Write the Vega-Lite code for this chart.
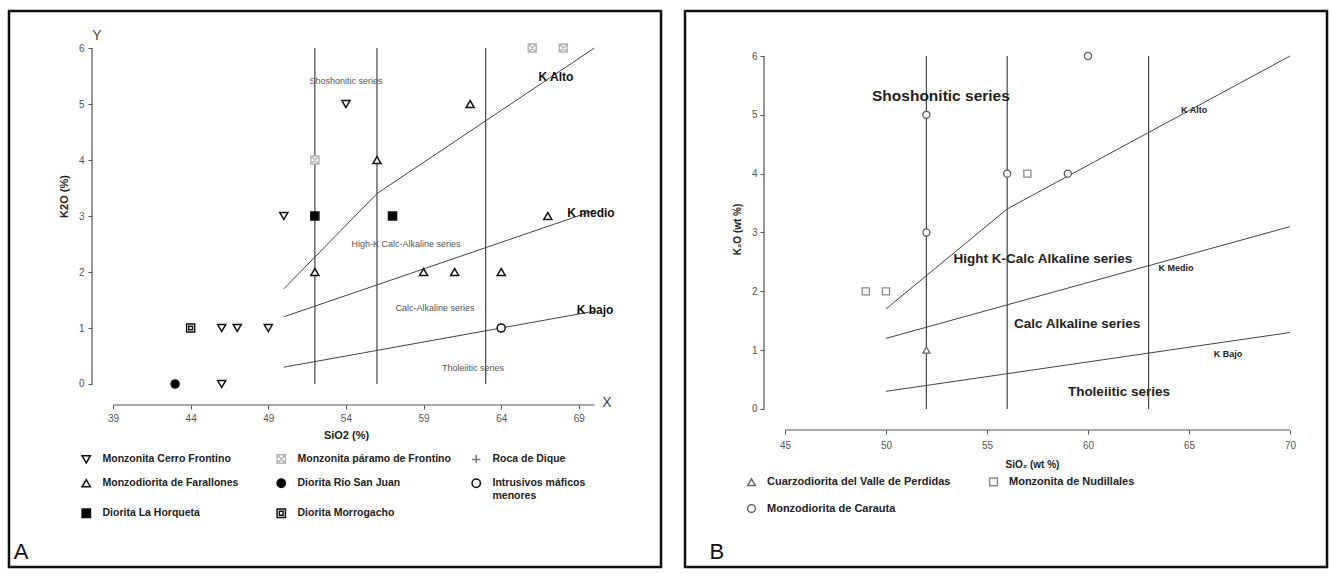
{
  "$schema": "https://vega.github.io/schema/vega-lite/v6.json",
  "padding": {"left": 7, "top": 9, "right": 0, "bottom": 0},
  "background": "white",
  "spacing": 20,
  "config": {"view": {"stroke": "#111", "strokeWidth": 2.5}, "font": "Liberation Sans"},
  "datasets": {
    "ptsA": [
      {"series": "Monzonita Cerro Frontino", "SiO2": 50, "K2O": 3},
      {"series": "Monzonita Cerro Frontino", "SiO2": 54, "K2O": 5},
      {"series": "Monzonita Cerro Frontino", "SiO2": 46, "K2O": 1},
      {"series": "Monzonita Cerro Frontino", "SiO2": 47, "K2O": 1},
      {"series": "Monzonita Cerro Frontino", "SiO2": 49, "K2O": 1},
      {"series": "Monzonita Cerro Frontino", "SiO2": 46, "K2O": 0},
      {"series": "Monzonita páramo de Frontino", "SiO2": 52, "K2O": 4},
      {"series": "Monzonita páramo de Frontino", "SiO2": 66, "K2O": 6},
      {"series": "Monzonita páramo de Frontino", "SiO2": 68, "K2O": 6},
      {"series": "Monzodiorita de Farallones", "SiO2": 52, "K2O": 2},
      {"series": "Monzodiorita de Farallones", "SiO2": 56, "K2O": 4},
      {"series": "Monzodiorita de Farallones", "SiO2": 62, "K2O": 5},
      {"series": "Monzodiorita de Farallones", "SiO2": 67, "K2O": 3},
      {"series": "Monzodiorita de Farallones", "SiO2": 59, "K2O": 2},
      {"series": "Monzodiorita de Farallones", "SiO2": 61, "K2O": 2},
      {"series": "Monzodiorita de Farallones", "SiO2": 64, "K2O": 2},
      {"series": "Diorita Río San Juan", "SiO2": 43, "K2O": 0},
      {"series": "Intrusivos máficos menores", "SiO2": 64, "K2O": 1},
      {"series": "Diorita La Horqueta", "SiO2": 52, "K2O": 3},
      {"series": "Diorita La Horqueta", "SiO2": 57, "K2O": 3},
      {"series": "Diorita Morrogacho", "SiO2": 44, "K2O": 1}
    ],
    "ptsB": [
      {"series": "Monzodiorita de Carauta", "SiO2": 52, "K2O": 5},
      {"series": "Monzodiorita de Carauta", "SiO2": 52, "K2O": 3},
      {"series": "Monzodiorita de Carauta", "SiO2": 56, "K2O": 4},
      {"series": "Monzodiorita de Carauta", "SiO2": 59, "K2O": 4},
      {"series": "Monzodiorita de Carauta", "SiO2": 60, "K2O": 6},
      {"series": "Monzonita de Nudillales", "SiO2": 49, "K2O": 2},
      {"series": "Monzonita de Nudillales", "SiO2": 50, "K2O": 2},
      {"series": "Monzonita de Nudillales", "SiO2": 57, "K2O": 4},
      {"series": "Cuarzodiorita del Valle de Perdidas", "SiO2": 52, "K2O": 1}
    ],
    "bounds": [
      {"line": "K Alto", "SiO2": 50, "K2O": 1.7},
      {"line": "K Alto", "SiO2": 56, "K2O": 3.4},
      {"line": "K Alto", "SiO2": 70, "K2O": 6.0},
      {"line": "K medio", "SiO2": 50, "K2O": 1.2},
      {"line": "K medio", "SiO2": 70, "K2O": 3.1},
      {"line": "K bajo", "SiO2": 50, "K2O": 0.3},
      {"line": "K bajo", "SiO2": 70, "K2O": 1.3}
    ],
    "vlines": [
      {"SiO2": 52, "K2O": 0, "K2Ob": 6},
      {"SiO2": 56, "K2O": 0, "K2Ob": 6},
      {"SiO2": 63, "K2O": 0, "K2Ob": 6}
    ],
    "xAxisA": [{"SiO2": 39, "SiO2b": 70, "K2O": -0.375}],
    "yAxisA": [{"SiO2": 37.648, "K2O": 0, "K2Ob": 6}],
    "xAxisB": [{"SiO2": 45, "SiO2b": 70, "K2O": -0.357}],
    "yAxisB": [{"SiO2": 43.961, "K2O": 0, "K2Ob": 6}],
    "notesA": [
      {"label": "Shoshonitic series", "SiO2": 54.0, "K2O": 5.41},
      {"label": "High-K Calc-Alkaline series", "SiO2": 57.87, "K2O": 2.5},
      {"label": "Calc-Alkaline series", "SiO2": 59.73, "K2O": 1.36},
      {"label": "Tholeiitic series", "SiO2": 62.18, "K2O": 0.286}
    ],
    "kA": [
      {"label": "K Alto", "SiO2": 67.52, "K2O": 5.48},
      {"label": "K medio", "SiO2": 69.78, "K2O": 3.05},
      {"label": "K bajo", "SiO2": 70.04, "K2O": 1.32}
    ],
    "lettersA": [
      {"label": "Y", "SiO2": 37.97, "K2O": 6.215},
      {"label": "X", "SiO2": 70.81, "K2O": -0.339}
    ],
    "panA": [{"label": "A", "SiO2": 33.08, "K2O": -3.0}],
    "shoB": [{"label": "Shoshonitic series", "SiO2": 52.72, "K2O": 5.32}],
    "notesB": [
      {"label": "Hight K-Calc Alkaline series", "SiO2": 57.77, "K2O": 2.55},
      {"label": "Calc Alkaline series", "SiO2": 59.46, "K2O": 1.445},
      {"label": "Tholeiitic series", "SiO2": 61.53, "K2O": 0.289}
    ],
    "kB": [
      {"label": "K Alto", "SiO2": 65.25, "K2O": 5.08},
      {"label": "K Medio", "SiO2": 64.36, "K2O": 2.4},
      {"label": "K Bajo", "SiO2": 66.93, "K2O": 0.935}
    ],
    "panB": [{"label": "B", "SiO2": 41.63, "K2O": -2.43}]
  },
  "resolve": {
    "scale": {"x": "independent", "y": "independent", "shape": "independent", "fill": "independent", "stroke": "independent"},
    "legend": {"shape": "independent", "fill": "independent", "stroke": "independent"},
    "axis": {"x": "independent", "y": "independent"}
  },
  "hconcat": [
    {
      "width": 652,
      "height": 556,
      "encoding": {
        "x": {
          "field": "SiO2", "type": "quantitative",
          "scale": {"domain": [32.303, 74.29], "nice": false, "zero": false},
          "axis": {
            "offset": -162, "domain": false, "grid": false,
            "values": [39, 44, 49, 54, 59, 64, 69],
            "tickSize": 4, "tickColor": "#555", "labelColor": "#555", "labelFontSize": 10,
            "labelPadding": 4, "labelFlush": false,
            "title": "SiO2 (%)", "titleFontSize": 11, "titleFontWeight": "bold", "titleColor": "#222",
            "titleX": 337, "titleY": 30, "titleBaseline": "middle", "titleAlign": "center"
          }
        },
        "y": {
          "field": "K2O", "type": "quantitative",
          "scale": {"domain": [-3.268, 6.661], "nice": false, "zero": false},
          "axis": {
            "offset": -83, "domain": false, "grid": false,
            "values": [0, 1, 2, 3, 4, 5, 6],
            "tickSize": 4, "tickColor": "#555", "labelColor": "#555", "labelFontSize": 10,
            "labelPadding": 4, "labelFlush": false,
            "title": "K2O (%)", "titleFontSize": 11, "titleFontWeight": "bold", "titleColor": "#222",
            "titleX": -28, "titleY": 185, "titleAngle": 270, "titleBaseline": "middle", "titleAlign": "center"
          }
        }
      },
      "layer": [
        {"data": {"name": "vlines"}, "mark": {"type": "rule", "color": "#444", "strokeWidth": 1.2}, "encoding": {"y2": {"field": "K2Ob"}}},
        {"data": {"name": "bounds"}, "mark": {"type": "line", "color": "#444", "strokeWidth": 1}, "encoding": {"detail": {"field": "line"}}},
        {"data": {"name": "xAxisA"}, "mark": {"type": "rule", "color": "#555", "strokeWidth": 1.2}, "encoding": {"x2": {"field": "SiO2b"}}},
        {"data": {"name": "yAxisA"}, "mark": {"type": "rule", "color": "#555", "strokeWidth": 1.2}, "encoding": {"y2": {"field": "K2Ob"}}},
        {
          "data": {"name": "ptsA"},
          "mark": {"type": "point", "size": 65, "strokeWidth": 1.5, "opacity": 1},
          "encoding": {
            "shape": {
              "field": "series", "type": "nominal",
              "scale": {
                "domain": ["Monzonita Cerro Frontino", "Monzonita páramo de Frontino", "Roca de Dique", "Monzodiorita de Farallones", "Diorita Río San Juan", "Intrusivos máficos menores", "Diorita La Horqueta", "Diorita Morrogacho"],
                "range": ["triangle-down", "M-1,-1H1V1H-1Z M-1,-1L1,1 M1,-1L-1,1", "M-1,0.1H1 M0,-1V1", "triangle-up", "circle", "circle", "square", "M-1,-1H1V1H-1Z M-0.45,-0.45H0.45V0.45H-0.45Z"]
              },
              "legend": {
                "title": null, "orient": "none", "legendX": 72, "legendY": 437,
                "direction": "horizontal", "columns": 3, "gridAlign": "all",
                "columnPadding": 18, "rowPadding": 4,
                "labelFontSize": 10.5, "labelFontWeight": "bold", "labelColor": "#222",
                "labelOffset": 11, "labelLimit": 300, "symbolSize": 70, "symbolStrokeWidth": 1.5,
                "labelExpr": "datum.label == 'Intrusivos máficos menores' ? ['Intrusivos máficos', 'menores'] : datum.label"
              }
            },
            "fill": {
              "field": "series", "type": "nominal",
              "scale": {
                "domain": ["Monzonita Cerro Frontino", "Monzonita páramo de Frontino", "Roca de Dique", "Monzodiorita de Farallones", "Diorita Río San Juan", "Intrusivos máficos menores", "Diorita La Horqueta", "Diorita Morrogacho"],
                "range": ["white", "white", "white", "white", "black", "white", "black", "white"]
              }
            },
            "stroke": {
              "field": "series", "type": "nominal",
              "scale": {
                "domain": ["Monzonita Cerro Frontino", "Monzonita páramo de Frontino", "Roca de Dique", "Monzodiorita de Farallones", "Diorita Río San Juan", "Intrusivos máficos menores", "Diorita La Horqueta", "Diorita Morrogacho"],
                "range": ["#111", "#b5b5b5", "#777", "#111", "#111", "#111", "#111", "#111"]
              }
            }
          }
        },
        {"data": {"name": "notesA"}, "mark": {"type": "text", "fontSize": 9, "color": "#555", "align": "center", "baseline": "middle"}, "encoding": {"text": {"field": "label"}}},
        {"data": {"name": "kA"}, "mark": {"type": "text", "fontSize": 12, "fontWeight": "bold", "color": "#111", "align": "center", "baseline": "middle"}, "encoding": {"text": {"field": "label"}}},
        {"data": {"name": "lettersA"}, "mark": {"type": "text", "fontSize": 14, "color": "#444", "align": "center", "baseline": "middle"}, "encoding": {"text": {"field": "label"}}},
        {"data": {"name": "panA"}, "mark": {"type": "text", "fontSize": 22, "color": "#111", "align": "center", "baseline": "middle"}, "encoding": {"text": {"field": "label"}}}
      ]
    },
    {
      "width": 642,
      "height": 556,
      "encoding": {
        "x": {
          "field": "SiO2", "type": "quantitative",
          "scale": {"domain": [40.05, 71.832], "nice": false, "zero": false},
          "axis": {
            "offset": -137, "domain": false, "grid": false,
            "values": [45, 50, 55, 60, 65, 70],
            "tickSize": 4, "tickColor": "#555", "labelColor": "#555", "labelFontSize": 10,
            "labelPadding": 6, "labelFlush": false,
            "title": "SiO₂ (wt %)", "titleFontSize": 10, "titleFontWeight": "bold", "titleColor": "#222",
            "titleX": 347, "titleY": 34, "titleBaseline": "middle", "titleAlign": "center"
          }
        },
        "y": {
          "field": "K2O", "type": "quantitative",
          "scale": {"domain": [-2.686, 6.765], "nice": false, "zero": false},
          "axis": {
            "offset": -79, "domain": false, "grid": false,
            "values": [0, 1, 2, 3, 4, 5, 6],
            "tickSize": 4, "tickColor": "#555", "labelColor": "#555", "labelFontSize": 10,
            "labelPadding": 3, "labelFlush": false,
            "title": "K₂O (wt %)", "titleFontSize": 10, "titleFontWeight": "bold", "titleColor": "#222",
            "titleX": -27, "titleY": 218, "titleAngle": 270, "titleBaseline": "middle", "titleAlign": "center"
          }
        }
      },
      "layer": [
        {"data": {"name": "vlines"}, "mark": {"type": "rule", "color": "#444", "strokeWidth": 1.2}, "encoding": {"y2": {"field": "K2Ob"}}},
        {"data": {"name": "bounds"}, "mark": {"type": "line", "color": "#444", "strokeWidth": 1}, "encoding": {"detail": {"field": "line"}}},
        {"data": {"name": "xAxisB"}, "mark": {"type": "rule", "color": "#555", "strokeWidth": 1.2}, "encoding": {"x2": {"field": "SiO2b"}}},
        {"data": {"name": "yAxisB"}, "mark": {"type": "rule", "color": "#555", "strokeWidth": 1.2}, "encoding": {"y2": {"field": "K2Ob"}}},
        {
          "data": {"name": "ptsB"},
          "mark": {"type": "point", "size": 50, "strokeWidth": 1.3, "opacity": 1},
          "encoding": {
            "shape": {
              "field": "series", "type": "nominal",
              "scale": {
                "domain": ["Cuarzodiorita del Valle de Perdidas", "Monzonita de Nudillales", "Monzodiorita de Carauta"],
                "range": ["triangle-up", "square", "circle"]
              },
              "legend": {
                "title": null, "orient": "none", "legendX": 61, "legendY": 465,
                "direction": "horizontal", "columns": 2, "gridAlign": "all",
                "columnPadding": 35, "rowPadding": 12,
                "labelFontSize": 11, "labelFontWeight": "bold", "labelColor": "#222",
                "labelOffset": 10, "labelLimit": 300, "symbolSize": 60, "symbolStrokeWidth": 1.4
              }
            },
            "fill": {
              "field": "series", "type": "nominal",
              "scale": {
                "domain": ["Cuarzodiorita del Valle de Perdidas", "Monzonita de Nudillales", "Monzodiorita de Carauta"],
                "range": ["white", "white", "white"]
              }
            },
            "stroke": {
              "field": "series", "type": "nominal",
              "scale": {
                "domain": ["Cuarzodiorita del Valle de Perdidas", "Monzonita de Nudillales", "Monzodiorita de Carauta"],
                "range": ["#666", "#8a8a8a", "#555"]
              }
            }
          }
        },
        {"data": {"name": "shoB"}, "mark": {"type": "text", "fontSize": 15.5, "fontWeight": "bold", "color": "#222", "align": "center", "baseline": "middle"}, "encoding": {"text": {"field": "label"}}},
        {"data": {"name": "notesB"}, "mark": {"type": "text", "fontSize": 13.5, "fontWeight": "bold", "color": "#222", "align": "center", "baseline": "middle"}, "encoding": {"text": {"field": "label"}}},
        {"data": {"name": "kB"}, "mark": {"type": "text", "fontSize": 9, "fontWeight": "bold", "color": "#222", "align": "center", "baseline": "middle"}, "encoding": {"text": {"field": "label"}}},
        {"data": {"name": "panB"}, "mark": {"type": "text", "fontSize": 22, "color": "#111", "align": "center", "baseline": "middle"}, "encoding": {"text": {"field": "label"}}}
      ]
    }
  ]
}
